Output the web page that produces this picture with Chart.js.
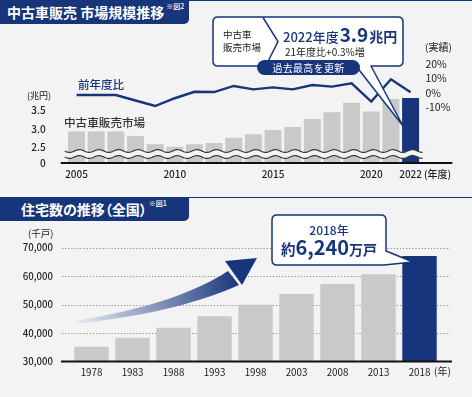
<!DOCTYPE html>
<html lang="ja">
<head>
<meta charset="UTF-8">
<title>中古車販売 市場規模推移 / 住宅数の推移</title>
<script src="https://cdn.jsdelivr.net/npm/chart.js"></script>
<style>
  body { margin: 0; background: #f3f3f3; font-family: "Noto Sans CJK JP", "Noto Sans", sans-serif; }
  #wrap { position: relative; width: 472px; height: 397px; overflow: hidden; background: #f3f3f3; }
  canvas, svg, .t { position: absolute; }
  svg { left: 0; top: 0; }
  .t { white-space: nowrap; line-height: 1; color: #222; }
  .rule { position: absolute; left: 0; width: 472px; height: 1px; background: #17357a; }
  .head { position: absolute; left: 0; width: 189px; height: 24px; background: #17357a; border-bottom-right-radius: 5px; color: #fff; font-weight: 700; font-size: 14px; line-height: 24px; white-space: nowrap; }
  .head sup { font-size: 7px; font-weight: 500; vertical-align: top; position: relative; top: -6px; margin-left: 2px; }
  .palt { font-feature-settings: "palt"; }
  .navy { color: #17357a; }
</style>
</head>
<body>
<div id="wrap">
  <div class="rule" style="top:0"></div>
  <div class="head" style="top:0"><span style="margin-left:7px">中古車販売 市場規模推移</span><sup>※図2</sup></div>

  <canvas id="used" width="472" height="190" style="left:0;top:0"></canvas>

  <div class="rule" style="top:197px"></div>
  <div class="head" style="top:197px"><span class="palt" style="margin-left:21px">住宅数の推移（全国）</span><sup>※図1</sup></div>

  <canvas id="house" width="472" height="200" style="left:0;top:197px"></canvas>

  <svg width="472" height="397">
    <defs>
      <linearGradient id="arrowFade" gradientUnits="userSpaceOnUse" x1="76" y1="322" x2="240" y2="276">
        <stop offset="0" stop-color="#e6e9f2"/>
        <stop offset="0.45" stop-color="#8d9ac0"/>
        <stop offset="1" stop-color="#17357a"/>
      </linearGradient>
    </defs>
    <!-- callout, used car chart -->
    <path d="M218 17 H398 Q403 17 403 22 V61 Q403 66 398 66 H371 L403 126 L356 66 H218 Q213 66 213 61 V22 Q213 17 218 17 Z"
          fill="#fff" stroke="#17357a" stroke-width="1.5" stroke-linejoin="round"/>
    <polyline points="263,17.5 278,41.5 266,65.5" fill="none" stroke="#17357a" stroke-width="1.5"/>
    <rect x="257" y="60" width="103" height="15" rx="7.5" fill="#17357a"/>
    <!-- callout, housing chart -->
    <path d="M277 215 H381 Q386 215 386 220 V251 L413 262 L384 265 H277 Q272 265 272 260 V220 Q272 215 277 215 Z"
          fill="#fff" stroke="#17357a" stroke-width="1.5" stroke-linejoin="round"/>
    <!-- growth arrow -->
    <path d="M76 321 C120 313 182 301 228 271 L239 285 C190 307 130 318 76 323.5 Z" fill="url(#arrowFade)"/>
    <polygon points="225,261 257,258 242,285" fill="#17357a"/>
  </svg>

  <!-- used car chart texts -->
  <div class="t" style="left:27px;top:91px;font-size:9px">(兆円)</div>
  <div class="t navy" style="left:78px;top:79px;font-size:11.5px;font-weight:500">前年度比</div>
  <div class="t" style="left:64px;top:116.5px;font-size:11.6px;font-weight:500;color:#333">中古車販売市場</div>
  <div class="t" style="left:425px;top:42px;font-size:10px">(実績)</div>
  <div class="t" style="left:424px;top:168.5px;font-size:10px;font-weight:500">(年度)</div>
  <div class="t" style="left:223px;top:30px;font-size:9.5px">中古車</div>
  <div class="t" style="left:223px;top:42.5px;font-size:9.5px">販売市場</div>
  <div class="t navy" style="left:283px;top:24px;font-weight:500"><span style="font-size:13px">2022年度</span><span style="font-size:19px;font-weight:700;margin-left:1px">3.9</span><span style="font-size:14px;font-weight:700;margin-left:1px">兆円</span></div>
  <div class="t" style="left:285px;top:47px;font-size:10px">21年度比+0.3%増</div>
  <div class="t" style="left:257px;top:62.5px;width:103px;text-align:center;font-size:10px;color:#fff;letter-spacing:0.3px">過去最高を更新</div>

  <!-- housing chart texts -->
  <div class="t" style="left:28px;top:229px;font-size:9.5px">(千戸)</div>
  <div class="t" style="left:434px;top:366px;font-size:10px">(年)</div>
  <div class="t navy" style="left:272px;top:224px;width:114px;text-align:center;font-size:12px;font-weight:500">2018年</div>
  <div class="t navy" style="left:272px;top:237px;width:114px;text-align:center;font-weight:700"><span style="font-size:14.5px">約</span><span style="font-size:20px">6,240</span><span style="font-size:14px">万戸</span></div>
</div>

<script>
  // 中古車販売 市場規模 (兆円) and 前年度比 (%)
  const usedYears = ['2005', '2006', '2007', '2008', '2009', '2010', '2011', '2012', '2013',
                     '2014', '2015', '2016', '2017', '2018', '2019', '2020', '2021', '2022'];
  const usedMarket = [2.93, 2.93, 2.93, 2.81, 2.59, 2.52, 2.59, 2.62, 2.76,
                      2.86, 2.97, 3.05, 3.27, 3.45, 3.71, 3.47, 3.81, 3.84];
  const usedYoY = [-1.7, -1.7, -1.7, -5.6, -9.5, -4.0, 0.6, 0.4, 4.7,
                   2.3, 3.7, 2.3, 5.4, 4.2, 6.6, -6.4, 9.4, 0.3];
  const usedShownYears = ['2005', '2010', '2015', '2020', '2022'];
  const usedAxisFloor = 2.08;              // broken axis: this value sits on the baseline, labelled 0
  const usedTicks = [usedAxisFloor, 2.5, 3.0, 3.5];
  const yoyTicks = [20, 10, 0, -10];

  // 住宅数 (千戸)
  const houseYears = ['1978', '1983', '1988', '1993', '1998', '2003', '2008', '2013', '2018'];
  const houseStock = [35200, 38350, 41850, 45850, 49950, 53700, 57200, 60600, 67000];
  const houseTicks = [30000, 40000, 50000, 60000, 70000];

  const NAVY = '#17357a';
  const GRAY = '#c9c9c9';
  const BG = '#f3f3f3';
  const FONT = '"Noto Sans CJK JP", "Noto Sans", sans-serif';

  const hidden = { display: false, drawTicks: false };

  // wavy break across the bars + black baseline
  const usedDecor = {
    id: 'usedDecor',
    afterDatasetsDraw(chart) {
      const { ctx, chartArea: a } = chart;
      const x0 = a.left - 2, x1 = a.right + 3;
      const yUp = a.bottom - 12, yLo = a.bottom - 6;
      const wy = (x, y) => y + 1.4 * Math.sin((x - x0) / 19.6 * 2 * Math.PI);
      ctx.save();
      ctx.beginPath();
      for (let x = x0; x <= x1; x++) ctx.lineTo(x, wy(x, yUp));
      for (let x = x1; x >= x0; x--) ctx.lineTo(x, wy(x, yLo));
      ctx.closePath();
      ctx.fillStyle = BG;
      ctx.fill();
      ctx.strokeStyle = '#3a3a3a';
      ctx.lineWidth = 1.2;
      [yUp, yLo].forEach(y => {
        ctx.beginPath();
        for (let x = x0; x <= x1; x++) ctx.lineTo(x, wy(x, y));
        ctx.stroke();
      });
      ctx.beginPath();
      ctx.moveTo(a.left - 6, a.bottom);
      ctx.lineTo(a.right + 32, a.bottom);
      ctx.strokeStyle = '#111';
      ctx.lineWidth = 2;
      ctx.stroke();
      ctx.restore();
    }
  };

  new Chart(document.getElementById('used'), {
    type: 'bar',
    data: {
      labels: usedYears,
      datasets: [
        {
          type: 'line', data: usedYoY, yAxisID: 'y1', order: 0,
          borderColor: NAVY, borderWidth: 2.4, pointRadius: 0, tension: 0
        },
        {
          type: 'bar', data: usedMarket, yAxisID: 'y', order: 1,
          backgroundColor: usedYears.map(y => y === '2022' ? NAVY : GRAY),
          barPercentage: 0.865, categoryPercentage: 1
        }
      ]
    },
    options: {
      responsive: false, animation: false, devicePixelRatio: 1,
      layout: { padding: { top: 40 } },
      plugins: { legend: { display: false }, tooltip: { enabled: false } },
      scales: {
        x: {
          grid: hidden, border: { display: false },
          ticks: {
            autoSkip: false, maxRotation: 0, padding: 5, color: '#222',
            font: { family: FONT, size: 10, weight: '500' },
            callback: (v, i) => usedShownYears.includes(usedYears[i]) ? usedYears[i] : ''
          },
          afterFit: s => { s.height = 27; }
        },
        y: {
          position: 'left', min: usedAxisFloor, max: 5.405,
          grid: hidden, border: { display: false },
          afterBuildTicks: s => { s.ticks = usedTicks.map(v => ({ value: v })); },
          ticks: {
            padding: 21, color: '#222', font: { family: FONT, size: 10, weight: '500' },
            callback: v => v === usedAxisFloor ? '0' : v.toFixed(1)
          },
          afterFit: s => { s.width = 66.7; }
        },
        y1: {
          position: 'right', min: -49.8, max: 37.2,
          grid: hidden, border: { display: false },
          afterBuildTicks: s => { s.ticks = yoyTicks.map(v => ({ value: v })); },
          ticks: {
            padding: 5, color: '#222', font: { family: FONT, size: 10.5 },
            callback: v => v + '%'
          },
          afterFit: s => { s.width = 51.6; }
        }
      }
    },
    plugins: [usedDecor]
  });

  // dotted grid lines wider than the plot + black baseline
  const houseDecor = {
    id: 'houseDecor',
    beforeDatasetsDraw(chart) {
      const { ctx, chartArea: a } = chart;
      const y = chart.scales.y;
      ctx.save();
      ctx.strokeStyle = '#8c8c8c';
      ctx.lineWidth = 1;
      ctx.setLineDash([1.2, 1.9]);
      houseTicks.slice(1).forEach(v => {
        const py = Math.round(y.getPixelForValue(v)) + 0.5;
        ctx.beginPath();
        ctx.moveTo(a.left - 9, py);
        ctx.lineTo(a.right + 10, py);
        ctx.stroke();
      });
      ctx.restore();
    },
    afterDatasetsDraw(chart) {
      const { ctx, chartArea: a } = chart;
      ctx.save();
      ctx.beginPath();
      ctx.moveTo(a.left - 10, a.bottom);
      ctx.lineTo(a.right + 12, a.bottom);
      ctx.strokeStyle = '#111';
      ctx.lineWidth = 2;
      ctx.stroke();
      ctx.restore();
    }
  };

  new Chart(document.getElementById('house'), {
    type: 'bar',
    data: {
      labels: houseYears,
      datasets: [{
        data: houseStock,
        backgroundColor: houseYears.map(y => y === '2018' ? NAVY : GRAY),
        barPercentage: 0.84, categoryPercentage: 1
      }]
    },
    options: {
      responsive: false, animation: false, devicePixelRatio: 1,
      layout: { padding: { top: 30, right: 32 } },
      plugins: { legend: { display: false }, tooltip: { enabled: false } },
      scales: {
        x: {
          grid: hidden, border: { display: false },
          ticks: { autoSkip: false, maxRotation: 0, padding: 5, color: '#222', font: { family: FONT, size: 9.8 } },
          afterFit: s => { s.height = 35.5; }
        },
        y: {
          min: 30000, max: 77193,
          grid: hidden, border: { display: false },
          afterBuildTicks: s => { s.ticks = houseTicks.map(v => ({ value: v })); },
          ticks: {
            padding: 18, color: '#222', font: { family: FONT, size: 9.6, weight: '500' },
            callback: v => v.toLocaleString('en-US')
          },
          afterFit: s => { s.width = 71; }
        }
      }
    },
    plugins: [houseDecor]
  });
</script>
</body>
</html>
